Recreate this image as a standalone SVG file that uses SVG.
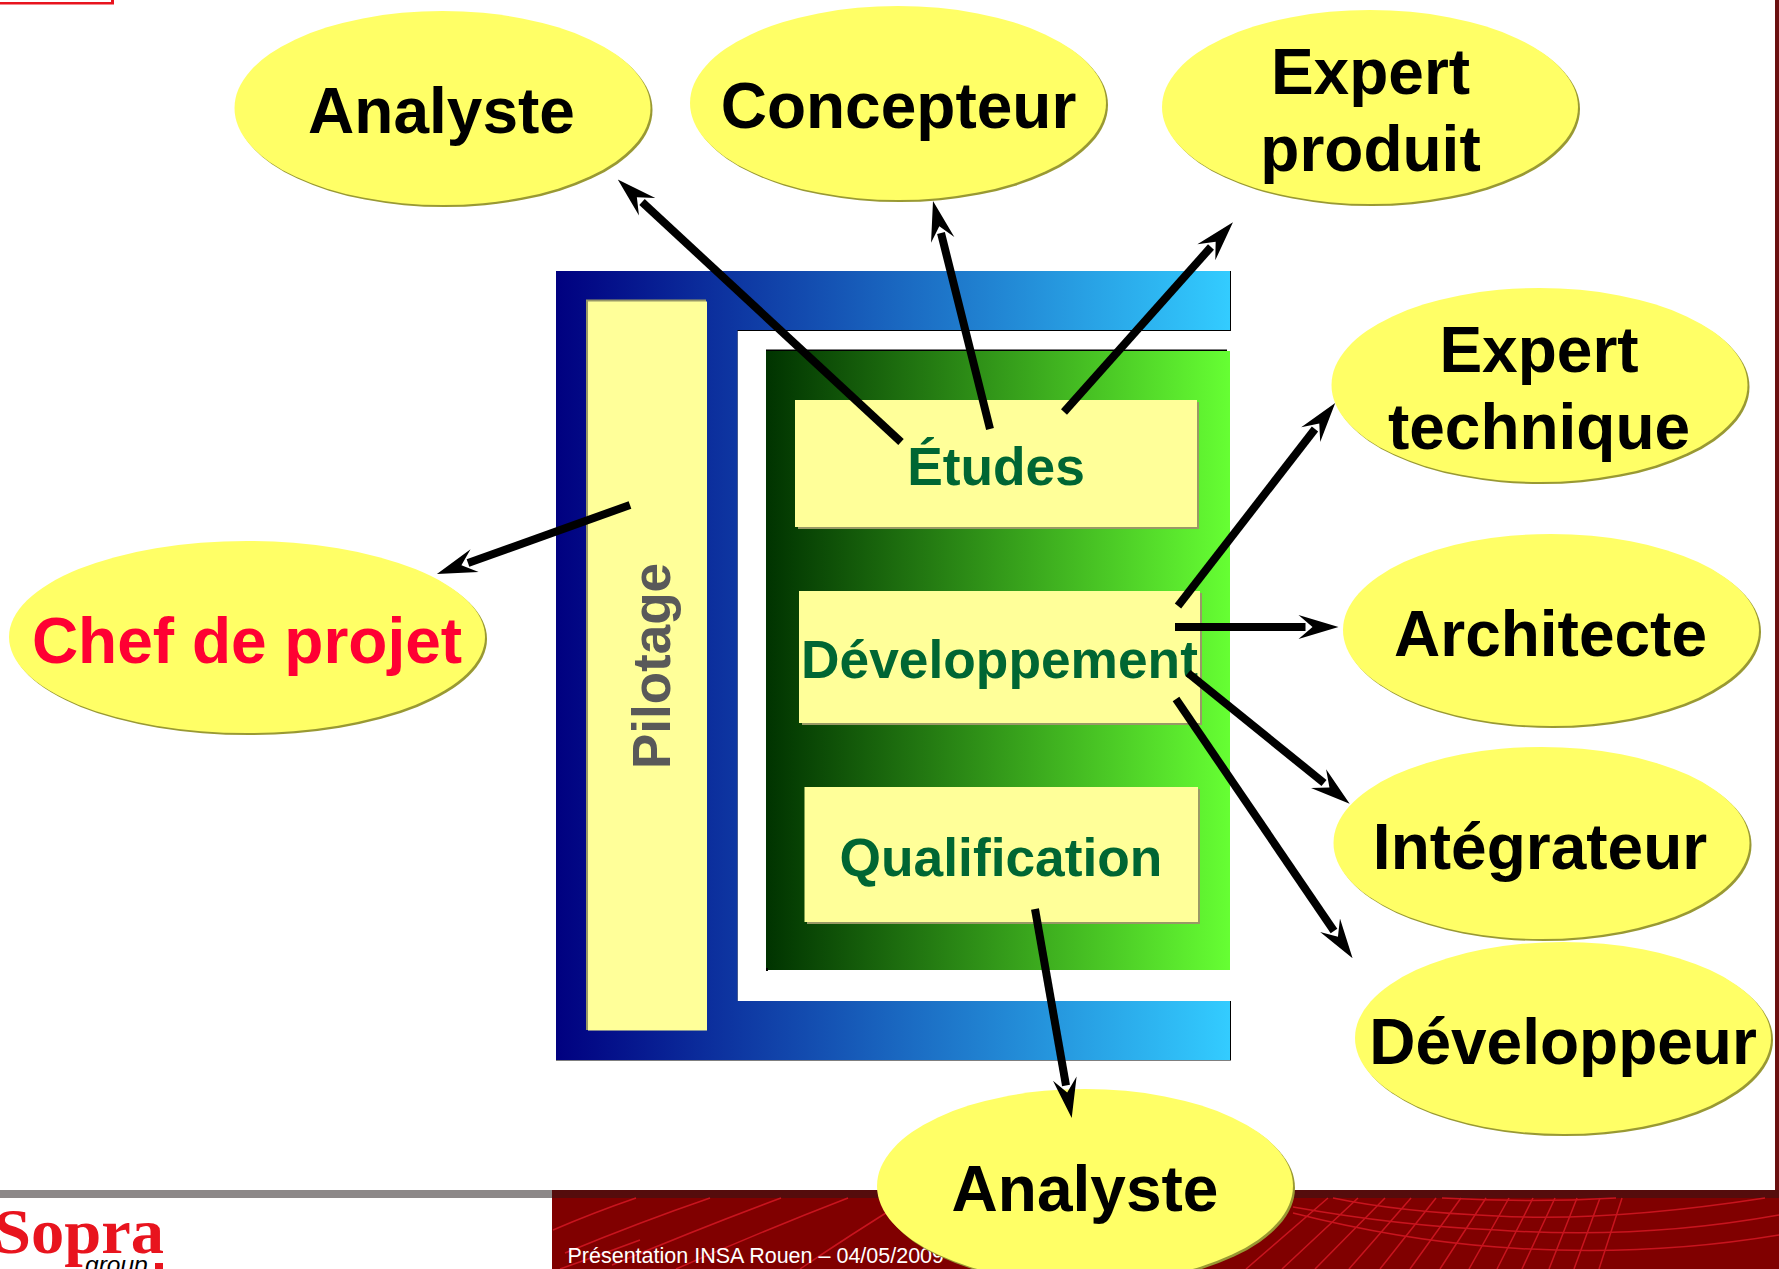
<svg xmlns="http://www.w3.org/2000/svg" width="1779" height="1269" viewBox="0 0 1779 1269">
<style>
text{font-family:"Liberation Sans",Arial,sans-serif;font-weight:bold}
.e{fill:#FFFF66}
.s{fill:#999933}
.l{font-size:64px;fill:#000;text-anchor:middle}
.g{font-size:53.300px;fill:#006633;text-anchor:middle}
.b{fill:#FFFF99}
.bs{fill:#999966}
.c{stroke:#000;stroke-width:8;fill:none;marker-end:url(#h)}
.m{stroke:#C8141E;stroke-width:1.5;fill:none}
</style>
<defs>
<linearGradient id="blue" gradientUnits="userSpaceOnUse" x1="556" y1="0" x2="1230" y2="0"><stop offset="0" stop-color="#000080"/><stop offset="1" stop-color="#33CCFF"/></linearGradient>
<linearGradient id="green" gradientUnits="userSpaceOnUse" x1="766" y1="0" x2="1230" y2="0"><stop offset="0" stop-color="#003300"/><stop offset="1" stop-color="#66FF33"/></linearGradient>
<marker id="h" markerUnits="userSpaceOnUse" markerWidth="42" markerHeight="28" refX="7" refY="13" orient="auto" overflow="visible"><path d="M0,1 L40,13 L0,25 L14,13 Z" fill="#000"/></marker>
</defs>
<rect width="1779" height="1269" fill="#fff"/>
<g id="background">
<path d="M0,2H111V0H114V4.500H0Z" fill="#E8141E"/>
<rect x="1775" y="0" width="4" height="1190" fill="#6B1010"/>
<rect x="552" y="1198" width="1227" height="71" fill="#800000"/>
<rect x="552" y="1190" width="1227" height="8" fill="#550C0C"/>
<rect x="0" y="1190" width="552" height="8" fill="#8C8888"/>
<g class="m">
<path d="M553,1230Q595,1212 636,1198M565,1253Q640,1222 710,1198M612,1265Q700,1228 781,1198M676,1269Q765,1230 848,1198M560,1269Q600,1255 640,1240M800,1269Q850,1235 910,1198"/>
<path d="M1442,1198Q1530,1203 1616,1198M1333,1198Q1400,1212 1497,1216Q1610,1222 1765,1198M1293,1207Q1400,1226 1497,1230Q1640,1240 1779,1215M1293,1213Q1400,1240 1497,1247Q1640,1258 1779,1235"/>
<path d="M1328,1198L1246,1269M1358,1198L1282,1269M1385,1198L1315,1269M1411,1198L1349,1269M1436,1198L1380,1269M1461,1198L1410,1269M1486,1198L1440,1269M1509,1198L1469,1269M1533,1198L1497,1269M1555,1198L1522,1269M1577,1198L1549,1269M1600,1198L1574,1269M1622,1198L1599,1269"/>
</g>
<text x="567.500" y="1263" font-size="21.500" fill="#fff" style="font-weight:normal">Présentation INSA Rouen – 04/05/2009</text>
</g>
<g id="logo">
<text x="-6" y="1253" font-size="64" textLength="170" lengthAdjust="spacingAndGlyphs" fill="#E8141E" style="font-family:'Liberation Serif',serif">Sopra</text>
<text x="85" y="1273" font-size="24.500" fill="#000" style="font-weight:normal;font-style:italic">group</text>
<rect x="155" y="1263" width="8" height="6" fill="#E8141E"/>
</g>
<g id="frame">
<path d="M556,271H1231V331H737.500V1001H1231V1060.500H556Z" fill="#000"/>
<path d="M556,271H1230V330H737.500V1001H1230V1060H556Z" fill="url(#blue)"/>
</g>
<g id="pilotage">
<rect x="586" y="299.500" width="120" height="730.500" class="bs"/>
<rect x="588" y="301.500" width="119" height="729" class="b"/>
<text transform="translate(670,666) rotate(-90)" font-size="53" fill="#595959" text-anchor="middle">Pilotage</text>
</g>
<g id="lifecycle">
<rect x="766" y="349.500" width="461" height="3" fill="#000"/>
<rect x="766" y="351" width="464" height="619" fill="url(#green)"/>
<rect x="766" y="968" width="2" height="3" fill="#000"/>
</g>
<g id="etudes">
<rect x="798" y="402" width="401" height="127" class="bs"/>
<rect x="795" y="400" width="402" height="127" class="b"/>
<text x="996" y="485" class="g">Études</text>
</g>
<g id="developpement">
<rect x="802" y="593" width="400" height="132" class="bs"/>
<rect x="799" y="591" width="401" height="132" class="b"/>
<text x="999.500" y="677.500" class="g">Développement</text>
</g>
<g id="qualification">
<rect x="807" y="789" width="393" height="135" class="bs"/>
<rect x="804.500" y="787" width="393.500" height="135" class="b"/>
<text x="1001" y="875.500" class="g">Qualification</text>
</g>
<g id="analyste1"><ellipse cx="444.500" cy="110" rx="208" ry="97" class="s"/><ellipse cx="442.500" cy="108" rx="208" ry="97" class="e"/><text x="441.500" y="133" class="l">Analyste</text></g>
<g id="concepteur"><ellipse cx="900" cy="105" rx="208" ry="97" class="s"/><ellipse cx="898" cy="103" rx="208" ry="97" class="e"/><text x="898.500" y="127.500" class="l">Concepteur</text></g>
<g id="expert-produit"><ellipse cx="1372" cy="109" rx="208" ry="97" class="s"/><ellipse cx="1370" cy="107" rx="208" ry="97" class="e"/><text x="1370.500" y="94" class="l">Expert</text><text x="1370.500" y="170.500" class="l">produit</text></g>
<g id="expert-technique"><ellipse cx="1541.500" cy="387" rx="208" ry="97" class="s"/><ellipse cx="1539.500" cy="385" rx="208" ry="97" class="e"/><text x="1539" y="371.500" class="l">Expert</text><text x="1539" y="448.500" class="l">technique</text></g>
<g id="architecte"><ellipse cx="1553" cy="632" rx="208" ry="96" class="s"/><ellipse cx="1551" cy="630" rx="208" ry="96" class="e"/><text x="1550.500" y="655.500" class="l">Architecte</text></g>
<g id="integrateur"><ellipse cx="1543.500" cy="845" rx="208" ry="96" class="s"/><ellipse cx="1541.500" cy="843" rx="208" ry="96" class="e"/><text x="1540" y="869" class="l">Intégrateur</text></g>
<g id="developpeur"><ellipse cx="1565" cy="1040" rx="208" ry="96" class="s"/><ellipse cx="1563" cy="1038" rx="208" ry="96" class="e"/><text x="1563" y="1064" class="l">Développeur</text></g>
<g id="chef"><ellipse cx="249" cy="639" rx="238" ry="96" class="s"/><ellipse cx="247" cy="637" rx="238" ry="96" class="e"/><text x="247" y="663" class="l" style="fill:#FF0033">Chef de projet</text></g>
<g id="analyste2"><ellipse cx="1087" cy="1188" rx="208" ry="97" class="s"/><ellipse cx="1085" cy="1186" rx="208" ry="97" class="e"/><text x="1085" y="1211" class="l">Analyste</text></g>
<g id="connectors">
<path class="c" d="M901,442L642,202"/>
<path class="c" d="M990,429L941,233"/>
<path class="c" d="M1064,412L1211,247"/>
<path class="c" d="M630,505L468,563"/>
<path class="c" d="M1178,606L1315,429"/>
<path class="c" d="M1175,627L1305.500,627"/>
<path class="c" d="M1188,673L1324,783"/>
<path class="c" d="M1176,699L1334,931"/>
<path class="c" d="M1035,909L1066,1085.500"/>
</g>
</svg>
